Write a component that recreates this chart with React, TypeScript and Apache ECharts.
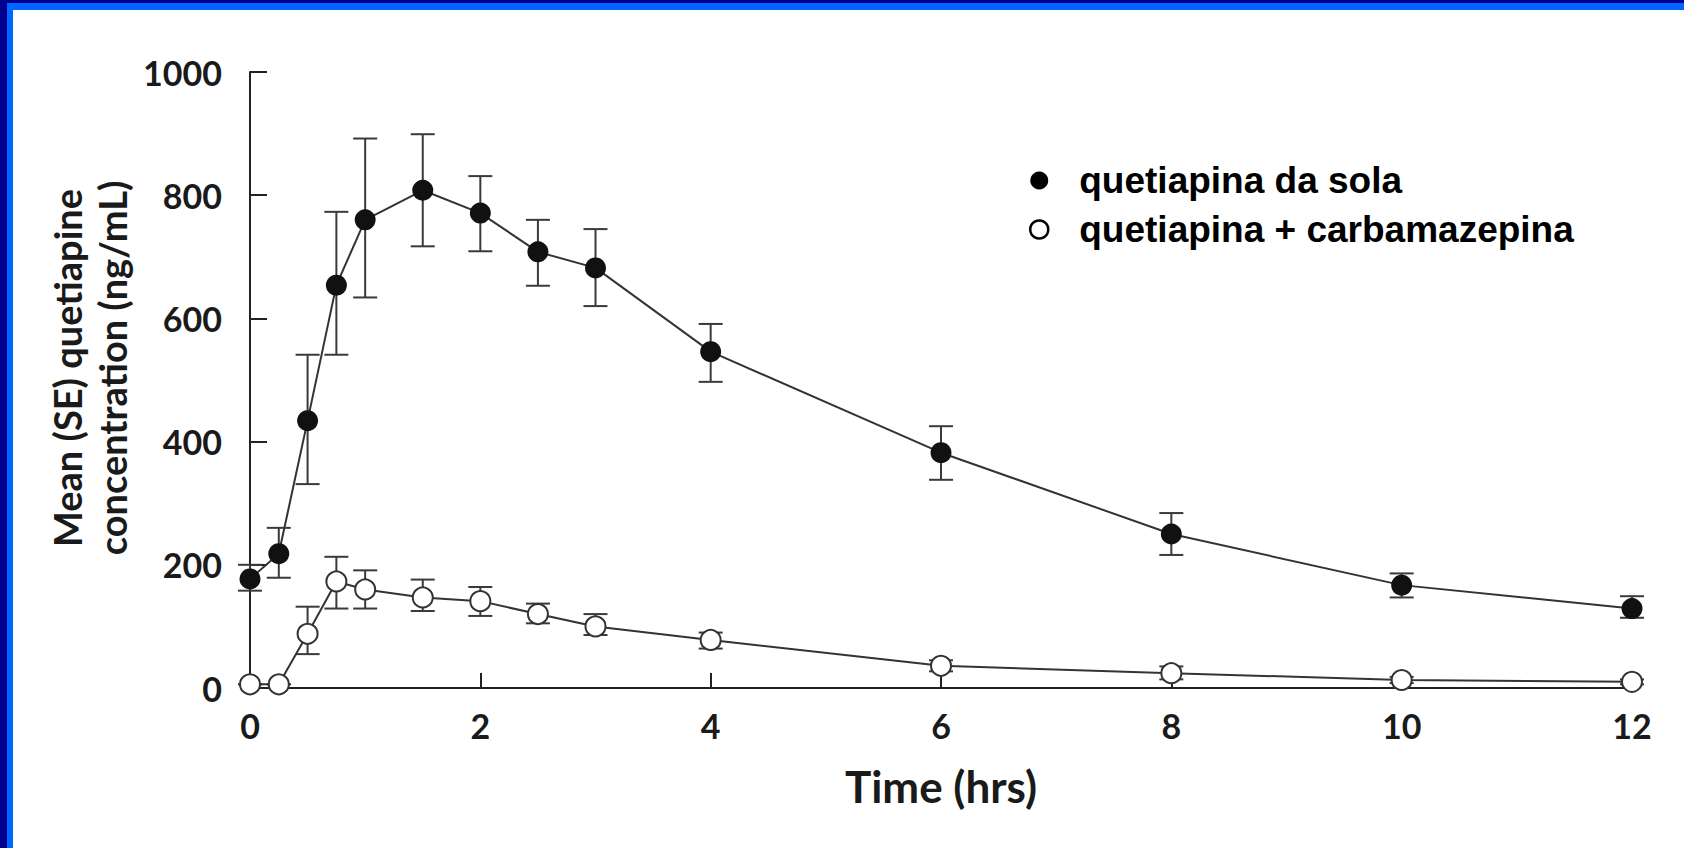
import React, { useEffect, useRef } from "react";
import * as echarts from "echarts";

// Sampling times (hours)
const times = [0, 0.25, 0.5, 0.75, 1, 1.5, 2, 2.5, 3, 4, 6, 8, 10, 12];

// Quetiapine alone: mean and SE bounds (ng/mL)
const aloneMean = [177, 218, 434, 654, 760, 808, 771, 708, 682, 546, 382, 250, 167, 129];
const aloneUpper = [200, 260, 541, 773, 892, 899, 831, 760, 745, 591, 425, 284, 186, 149];
const aloneLower = [158, 179, 331, 541, 634, 717, 709, 653, 620, 497, 338, 216, 147, 114];

// Quetiapine + carbamazepine: mean and SE bounds (ng/mL)
const comboMean = [6, 6, 88, 173, 160, 147, 141, 120, 100, 78, 36, 24, 13, 10];
const comboUpper = [6, 6, 132, 213, 191, 176, 164, 137, 120, 90, 45, 35, 18, 14];
const comboLower = [6, 6, 55, 129, 129, 125, 117, 105, 86, 64, 27, 14, 8, 6];

const seriesNames = ["quetiapina da sola", "quetiapina + carbamazepina"];
const xAxisTitle = "Time (hrs)";
const yAxisTitle = ["Mean (SE) quetiapine", "concentration (ng/mL)"];

const AXIS_FONT = "Lato";
const LEGEND_FONT = "Liberation Sans";

export default function App() {
  const ref = useRef<HTMLDivElement>(null);

  useEffect(() => {
    if (!ref.current) return;
    const chart = echarts.init(ref.current, null, { renderer: "svg" });

    const errorSeries = (name: string, lo: number[], hi: number[]) => ({
      type: "custom",
      name,
      z: 1,
      silent: true,
      data: times.map((t, i) => [t, lo[i], hi[i]]),
      encode: { x: 0, y: [1, 2] },
      renderItem: (params: any, api: any) => {
        const x = api.value(0);
        const top = api.coord([x, api.value(2)]);
        const bot = api.coord([x, api.value(1)]);
        const hw = 12;
        const style = { stroke: "#3a3a3a", lineWidth: 2 };
        return {
          type: "group",
          children: [
            { type: "line", shape: { x1: top[0], y1: top[1], x2: bot[0], y2: bot[1] }, style },
            { type: "line", shape: { x1: top[0] - hw, y1: top[1], x2: top[0] + hw, y2: top[1] }, style },
            { type: "line", shape: { x1: bot[0] - hw, y1: bot[1], x2: bot[0] + hw, y2: bot[1] }, style },
          ],
        };
      },
    });

    const option: any = {
      animation: false,
      backgroundColor: "#ffffff",
      grid: { left: 250, right: 52, top: 72, bottom: 160, containLabel: false },
      xAxis: {
        type: "value",
        min: 0,
        max: 12,
        interval: 2,
        name: xAxisTitle,
        nameLocation: "middle",
        nameGap: 76,
        nameTextStyle: { fontFamily: AXIS_FONT, fontWeight: "bold", fontSize: 44, color: "#1a1a1a" },
        axisLine: { show: true, onZero: false, lineStyle: { color: "#222", width: 2 } },
        axisTick: { show: true, inside: true, length: 15, lineStyle: { color: "#222", width: 2 } },
        axisLabel: { fontFamily: AXIS_FONT, fontWeight: "bold", fontSize: 34, color: "#1a1a1a", margin: 20 },
        splitLine: { show: false },
      },
      yAxis: {
        type: "value",
        min: 0,
        max: 1000,
        interval: 200,
        axisLine: { show: true, lineStyle: { color: "#222", width: 2 } },
        axisTick: { show: true, inside: true, length: 17, lineStyle: { color: "#222", width: 2 } },
        axisLabel: {
          fontFamily: AXIS_FONT,
          fontWeight: "bold",
          fontSize: 34,
          color: "#1a1a1a",
          margin: 28,
          formatter: (v: number) => String(v),
        },
        splitLine: { show: false },
      },
      legend: {
        orient: "vertical",
        left: 1024,
        top: 157,
        itemWidth: 18,
        itemHeight: 18,
        itemGap: 12,
        selectedMode: false,
        textStyle: {
          fontFamily: LEGEND_FONT,
          fontWeight: "bold",
          fontSize: 37,
          color: "#000",
          padding: [0, 0, 0, 26],
        },
        data: [
          { name: seriesNames[0], icon: "circle", itemStyle: { color: "#000", borderWidth: 0 } },
          {
            name: seriesNames[1],
            icon: "circle",
            itemStyle: { color: "#fff", borderColor: "#000", borderWidth: 2.5 },
          },
        ],
      },
      graphic: [
        { type: "rect", shape: { x: 0, y: 0, width: 1684, height: 10 }, style: { fill: "#0066ff" }, z: 100 },
        { type: "rect", shape: { x: 0, y: 0, width: 1684, height: 3 }, style: { fill: "#000090" }, z: 101 },
        { type: "rect", shape: { x: 0, y: 0, width: 13, height: 848 }, style: { fill: "#0066ff" }, z: 100 },
        { type: "rect", shape: { x: 0, y: 0, width: 7, height: 848 }, style: { fill: "#000090" }, z: 101 },
        {
          type: "text",
          x: 89,
          y: 368,
          rotation: Math.PI / 2,
          style: {
            text: yAxisTitle.join("\n"),
            fontFamily: AXIS_FONT,
            fontWeight: "bold",
            fontSize: 38,
            lineHeight: 45,
            fill: "#1a1a1a",
            textAlign: "center",
            textVerticalAlign: "middle",
          },
        },
      ],
      series: [
        errorSeries("se-alone", aloneLower, aloneUpper),
        errorSeries("se-combo", comboLower, comboUpper),
        {
          type: "line",
          name: seriesNames[0],
          z: 3,
          data: times.map((t, i) => [t, aloneMean[i]]),
          symbol: "circle",
          symbolSize: 21,
          lineStyle: { color: "#333", width: 2 },
          itemStyle: { color: "#111", borderWidth: 0 },
        },
        {
          type: "line",
          name: seriesNames[1],
          z: 3,
          data: times.map((t, i) => [t, comboMean[i]]),
          symbol: "circle",
          symbolSize: 20,
          lineStyle: { color: "#333", width: 2 },
          itemStyle: { color: "#fff", borderColor: "#333", borderWidth: 2 },
        },
      ],
    };

    chart.setOption(option);
    return () => chart.dispose();
  }, []);

  return (
    <div
      ref={ref}
      style={{ position: "fixed", left: 0, top: 0, width: 1684, height: 848, background: "#fff" }}
    />
  );
}
